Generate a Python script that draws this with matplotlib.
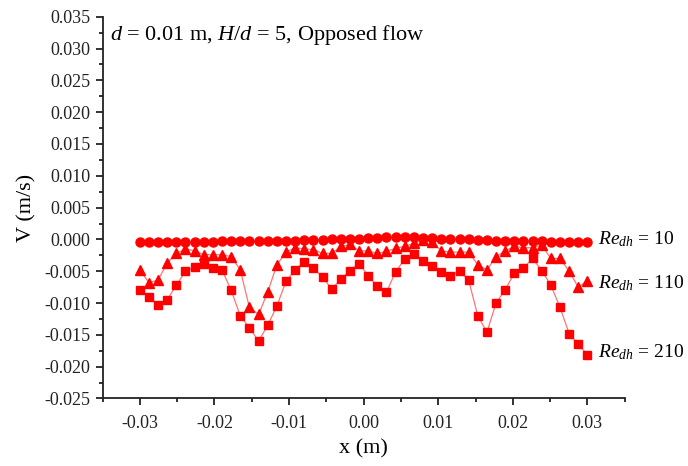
import numpy as np
import matplotlib
matplotlib.use("Agg")
import matplotlib.pyplot as plt
from matplotlib.ticker import MultipleLocator, FuncFormatter

plt.rcParams['font.family'] = ['Liberation Serif', 'DejaVu Serif']
plt.rcParams['mathtext.fontset'] = 'custom'
plt.rcParams['mathtext.rm'] = 'Liberation Serif'
plt.rcParams['mathtext.it'] = 'Liberation Serif:italic'

# measurement positions across the channel (m)
x_pos = np.linspace(-0.03, 0.03, 50)

# vertical velocity (m/s) for each Reynolds number
v_re10 = [-0.0004, -0.0004, -0.0004, -0.0004, -0.0004, -0.0004, -0.0004, -0.0004, -0.0004, -0.0003,
          -0.0003, -0.0003, -0.0003, -0.0003, -0.0002, -0.0002, -0.0002, -0.0002, -0.0001, -0.0001,
          -0.0001, 0.0, 0.0, 0.0001, 0.0001, 0.0002, 0.0002, 0.0003, 0.0003, 0.0003,
          0.0003, 0.0002, 0.0002, 0.0001, 0.0001, 0.0, 0.0, -0.0001, -0.0001, -0.0002,
          -0.0002, -0.0002, -0.0003, -0.0003, -0.0003, -0.0004, -0.0004, -0.0004, -0.0004, -0.0004]

v_re110 = [-0.0048, -0.0068, -0.0064, -0.0037, -0.0022, -0.0015, -0.0018, -0.0024, -0.0024, -0.0024,
           -0.0027, -0.0048, -0.0107, -0.0118, -0.0083, -0.0040, -0.0020, -0.0013, -0.0015, -0.0016,
           -0.0022, -0.0022, -0.0011, -0.0008, -0.0018, -0.0018, -0.0022, -0.0019, -0.0014, -0.0011,
           -0.0006, -0.0001, -0.0004, -0.0018, -0.0020, -0.0020, -0.0020, -0.0040, -0.0048, -0.0027,
           -0.0018, -0.0011, -0.0013, -0.0013, -0.0009, -0.0030, -0.0030, -0.0050, -0.0075, -0.0065]

v_re210 = [-0.0079, -0.0091, -0.0103, -0.0095, -0.0072, -0.0050, -0.0044, -0.0039, -0.0045, -0.0048,
           -0.0080, -0.0120, -0.0139, -0.0160, -0.0135, -0.0105, -0.0066, -0.0048, -0.0035, -0.0045,
           -0.0059, -0.0078, -0.0063, -0.0049, -0.0038, -0.0057, -0.0074, -0.0083, -0.0051, -0.0031,
           -0.0023, -0.0034, -0.0042, -0.0051, -0.0057, -0.0050, -0.0064, -0.0120, -0.0146, -0.0100,
           -0.0079, -0.0053, -0.0045, -0.0030, -0.0049, -0.0072, -0.0107, -0.0148, -0.0165, -0.0181]

series = [(v_re10, 'o', 6.5, '10', 0.0),
          (v_re110, '^', 7, '110', -0.0069),
          (v_re210, 's', 6, '210', -0.0177)]

fig = plt.figure(figsize=(6.88, 4.66), dpi=100)
ax = fig.add_axes([0.149, 0.145, 0.759, 0.819])

red = '#ff0000'
for vals, mk, ms, re, ylab in series:
    ax.plot(x_pos, vals, color=red, lw=0.9, alpha=0.55, zorder=2)
    ax.plot(x_pos, vals, ls='none', marker=mk, ms=ms, color=red,
            markeredgecolor=red, zorder=3)
    ax.text(0.0314, ylab, r'$Re_{dh}$ = ' + re, fontsize=14, va='center',
            ha='left', clip_on=False)


def fmt(v, pos, nd):
    s = f'{v:.{nd}f}'
    return s.lstrip('-') if float(s) == 0 else s


ax.set_xlim(-0.035, 0.035)
ax.set_ylim(-0.025, 0.035)
ax.xaxis.set_major_locator(MultipleLocator(0.01))
ax.xaxis.set_minor_locator(MultipleLocator(0.005))
ax.yaxis.set_major_locator(MultipleLocator(0.005))
ax.yaxis.set_minor_locator(MultipleLocator(0.0025))
ax.xaxis.set_major_formatter(FuncFormatter(lambda v, p: fmt(v, p, 2)))
ax.yaxis.set_major_formatter(FuncFormatter(lambda v, p: fmt(v, p, 3)))

for s in ['top', 'right']:
    ax.spines[s].set_visible(False)
for s in ['left', 'bottom']:
    ax.spines[s].set_linewidth(1.3)
    ax.spines[s].set_color('#222222')
ax.tick_params(which='both', direction='out', width=1.3, colors='#222222',
               labelsize=13, labelcolor='#222222')
ax.tick_params(which='major', length=5)
ax.tick_params(which='minor', length=3)
ax.tick_params(axis='x', pad=7)

ax.set_xlabel('x (m)', fontsize=16, labelpad=5)
ax.set_ylabel('V (m/s)', fontsize=16, labelpad=6)

ax.text(0.014, 0.985, r'$d$ = 0.01 m, $H$/$d$ = 5, Opposed flow',
        transform=ax.transAxes, fontsize=16, va='top', ha='left')

fig.savefig('out.png', dpi=100)
